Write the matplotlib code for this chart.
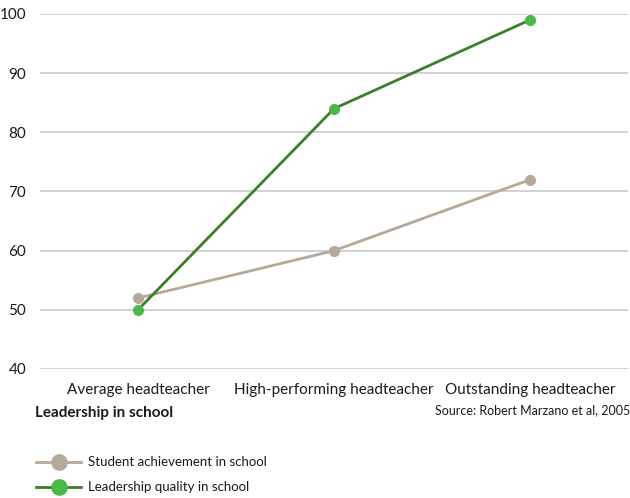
import matplotlib
matplotlib.use("Agg")
import matplotlib.pyplot as plt
from matplotlib.lines import Line2D

plt.rcParams['font.family'] = ['Lato', 'DejaVu Sans']

categories = ["Average headteacher", "High-performing headteacher", "Outstanding headteacher"]
student_achievement = [52, 60, 72]
leadership_quality = [50, 84, 99]
y_ticks = [40, 50, 60, 70, 80, 90, 100]

tan = "#b7a999"
green_line = "#3b7f2a"
green_marker = "#4cb848"
grid_col = "#c9c9c9"
text_col = "#1a1a1a"

W, H = 630, 498
fig = plt.figure(figsize=(W / 100, H / 100), dpi=100)
ax = fig.add_axes([40 / W, 1 - 369 / H, 588 / W, (369 - 14) / H])

x = list(range(len(categories)))
ax.plot(x, student_achievement, color=tan, lw=2, marker="o", ms=7,
        markerfacecolor=tan, markeredgecolor=tan, zorder=3)
ax.plot(x, leadership_quality, color=green_line, lw=2, marker="o", ms=7,
        markerfacecolor=green_marker, markeredgecolor=green_marker, zorder=4)

ax.set_xlim(-0.5, 2.5)
ax.set_ylim(40, 100)
ax.set_yticks(y_ticks)
ax.set_xticks(x)
ax.set_xticklabels(categories)
ax.grid(axis="y", color=grid_col, lw=1.2)
ax.set_axisbelow(True)
for s in ax.spines.values():
    s.set_visible(False)
ax.tick_params(axis="both", length=0, labelsize=11, colors=text_col)
ax.tick_params(axis="y", pad=10)
ax.tick_params(axis="x", pad=10)

fig.text(35 / W, 1 - 413 / H, "Leadership in school", fontsize=11,
         fontweight="bold", color=text_col, va="center", ha="left")
fig.text(630 / W, 1 - 410 / H, "Source: Robert Marzano et al, 2005", fontsize=9,
         color=text_col, va="center", ha="right")

handles = [
    Line2D([], [], color=tan, lw=2, marker="o", ms=11,
           markerfacecolor=tan, markeredgecolor=tan),
    Line2D([], [], color=green_line, lw=2, marker="o", ms=11,
           markerfacecolor=green_marker, markeredgecolor=green_marker),
]
fig.legend(handles, ["Student achievement in school", "Leadership quality in school"],
           loc="upper left", bbox_to_anchor=(31 / W, 1 - 451 / H), frameon=False,
           fontsize=9.5, handlelength=3.4, handletextpad=0.5, labelspacing=1.0,
           borderaxespad=0, labelcolor=text_col)

fig.savefig("out.png", dpi=100, facecolor="white")
